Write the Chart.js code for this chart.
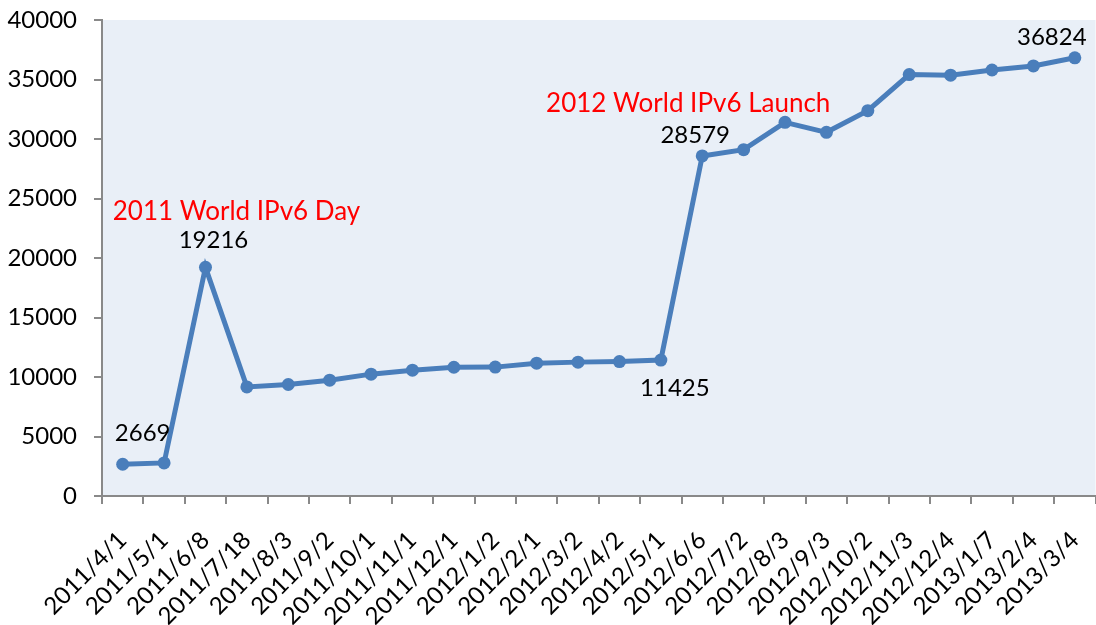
<!DOCTYPE html>
<html>
<head>
<meta charset="utf-8">
<script src="https://cdn.jsdelivr.net/npm/chart.js"></script>
<style>
  html, body { margin: 0; padding: 0; overflow: hidden; background: #fff; }
  #wrap { width: 1102px; height: 625px; }
</style>
</head>
<body>
<div id="wrap"><canvas id="chartCanvas" width="1102" height="625"></canvas></div>
<script>
// data
const dates = ['2011/4/1', '2011/5/1', '2011/6/8', '2011/7/18', '2011/8/3', '2011/9/2',
    '2011/10/1', '2011/11/1', '2011/12/1', '2012/1/2', '2012/2/1', '2012/3/2',
    '2012/4/2', '2012/5/1', '2012/6/6', '2012/7/2', '2012/8/3', '2012/9/3',
    '2012/10/2', '2012/11/3', '2012/12/4', '2013/1/7', '2013/2/4', '2013/3/4'];
const counts = [2669, 2780, 19216, 9170, 9370, 9730, 10240, 10570, 10820, 10830, 11160, 11250,
    11300, 11425, 28579, 29100, 31400, 30560, 32380, 35410, 35360, 35800, 36140, 36824];
const yTicks = [0, 5000, 10000, 15000, 20000, 25000, 30000, 35000, 40000];
const labelled = [0, 2, 13, 14, 23];
const events = ['2011 World IPv6 Day', '2012 World IPv6 Launch'];
const eventAt = [2, 14];

const FONT = 'Lato, "Noto Sans", sans-serif';
const AXIS = '#898989';

// plot background
const plotBg = {
    id: 'plotBg',
    beforeDraw(chart) {
        const a = chart.chartArea, c = chart.ctx;
        c.save();
        c.fillStyle = '#E9EFF7';
        c.fillRect(a.left, a.top, a.right - a.left, a.bottom - a.top);
        c.restore();
    }
};

// value labels + event notes, placed next to their points
const notes = {
    id: 'notes',
    afterDatasetsDraw(chart) {
        const c = chart.ctx, pts = chart.getDatasetMeta(0).data;
        const off = { 0: [20, -31], 2: [8, -27], 13: [14, 28], 14: [-7, -21], 23: [-23, -21] };
        c.save();
        c.textAlign = 'center';
        c.textBaseline = 'middle';
        c.fillStyle = '#000';
        c.font = '24px ' + FONT;
        labelled.forEach(i => {
            c.fillText(String(counts[i]), pts[i].x + off[i][0], pts[i].y + off[i][1]);
        });
        const eoff = [[31, -56], [-14, -52]];
        c.fillStyle = '#FF0000';
        c.font = '26px ' + FONT;
        events.forEach((t, k) => {
            const p = pts[eventAt[k]];
            c.fillText(t, p.x + eoff[k][0], p.y + eoff[k][1]);
        });
        c.restore();
    }
};

const ctx = document.getElementById('chartCanvas').getContext('2d');
new Chart(ctx, {
    type: 'line',
    data: {
        labels: dates,
        datasets: [{
            data: counts,
            borderColor: '#4A7EBB',
            backgroundColor: '#4A7EBB',
            borderWidth: 5,
            pointRadius: 6.5,
            pointBackgroundColor: '#4A7EBB',
            pointBorderWidth: 0,
            tension: 0,
            clip: false
        }]
    },
    options: {
        responsive: false,
        animation: false,
        events: [],
        layout: { padding: { top: 20, right: 0, left: 0, bottom: 0 } },
        plugins: { legend: { display: false }, tooltip: { enabled: false } },
        scales: {
            x: {
                offset: true,
                grid: { display: true, drawOnChartArea: false, offset: true, color: AXIS, lineWidth: 2, tickLength: 8 },
                border: { color: AXIS, width: 2 },
                ticks: {
                    autoSkip: false, minRotation: 45, maxRotation: 45, padding: 22,
                    color: '#000', font: { family: FONT, size: 24 }
                },
                afterFit(s) { s.height = 129; s.paddingLeft = 0; s.paddingRight = 0; }
            },
            y: {
                min: 0, max: 40000,
                afterBuildTicks(s) { s.ticks = yTicks.map(v => ({ value: v })); },
                grid: { display: true, drawOnChartArea: false, color: AXIS, lineWidth: 2, tickLength: 8 },
                border: { color: AXIS, width: 2 },
                ticks: {
                    padding: 17, color: '#000', font: { family: FONT, size: 24 },
                    callback: v => String(v)
                },
                afterFit(s) { s.width = 102; s.paddingTop = 0; s.paddingBottom = 0; }
            }
        }
    },
    plugins: [plotBg, notes]
});
</script>
</body>
</html>
